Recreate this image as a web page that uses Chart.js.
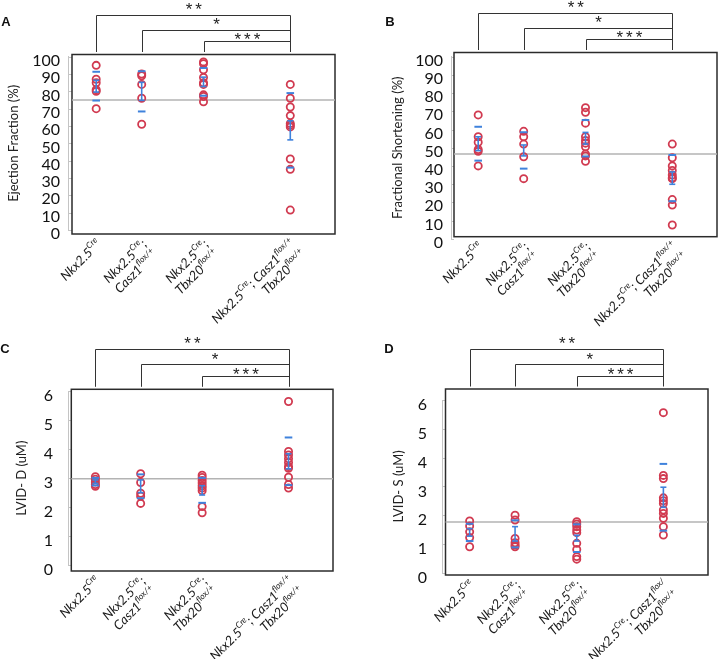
<!DOCTYPE html>
<html><head><meta charset="utf-8">
<script src="https://cdn.jsdelivr.net/npm/chart.js@4/dist/chart.umd.min.js"></script>
<style>
html,body{margin:0;padding:0;background:#fff;}
#wrap{position:relative;width:718px;height:659px;overflow:hidden;background:#fff;}
canvas{position:absolute;left:0;top:0;}
</style></head><body><div id="wrap">
<canvas id="cA" width="718" height="659"></canvas>
<canvas id="cB" width="718" height="659"></canvas>
<canvas id="cC" width="718" height="659"></canvas>
<canvas id="cD" width="718" height="659"></canvas>
</div>
<script>
// ---------------- DATA ----------------
const categories = [
  ["Nkx2.5^{Cre}"],
  ["Nkx2.5^{Cre};", "Casz1^{flox/+}"],
  ["Nkx2.5^{Cre};", "Tbx20^{flox/+}"],
  ["Nkx2.5^{Cre}; Casz1^{flox/+}", "Tbx20^{flox/+}"]
];
const categoriesD = [
  ["Nkx2.5^{Cre}"],
  ["Nkx2.5^{Cre};", "Casz1^{flox/+}"],
  ["Nkx2.5^{Cre};", "Tbx20^{flox/+}"],
  ["Nkx2.5^{Cre}; Casz1^{flox/}", "Tbx20^{flox/+}"]
];
// category positions along the x axis (0 = left frame edge, 1 = right frame edge)
const groupX = [0.092, 0.265, 0.5, 0.83];

const efValues = [
  [95, 87, 85, 81, 80, 70],
  [90, 89, 84, 76, 61],
  [97, 96, 92.5, 88, 85, 84, 78, 77, 74],
  [84, 76, 71, 66, 61.5, 60.5, 59.5, 41, 35, 11.5]
];
const efMean = [83, 80, 85.5, 57.5];
const efSd   = [8.3, 11.6, 8, 21.5];
const efSem  = [3.4, 5.2, 2.7, 5.5];
const efRef  = 75;

const fsValues = [
  [68, 56, 53, 49, 48, 40],
  [59, 56, 52, 45, 33],
  [72, 69.5, 63.5, 56, 54, 52.5, 50.5, 46.5, 45.5, 42.5],
  [52, 44.5, 40, 37.5, 35, 33.5, 33, 21.5, 18.5, 7.5]
];
const fsMean = [52.2, 48.5, 55.2, 33.3];
const fsSd   = [9.3, 10, 10, 12.7];
const fsSem  = [3.8, 3, 3.2, 3.4];
const fsRef  = 46.5;

const lviddValues = [
  [3.05, 2.96, 2.87, 2.78, 2.72],
  [3.15, 2.85, 2.48, 2.38, 2.13],
  [3.1, 3.02, 2.92, 2.83, 2.74, 2.66, 2.57, 2.02, 1.81],
  [5.64, 3.92, 3.8, 3.67, 3.54, 3.4, 3.34, 3.03, 2.78, 2.66]
];
const lviddMean = [2.88, 2.72, 2.58, 3.58];
const lviddSd   = [0.13, 0.41, 0.43, 0.82];
const lviddSem  = [0.06, 0.22, 0.16, 0.26];
const lviddRef  = 2.98;

const lvidsValues = [
  [1.8, 1.62, 1.42, 1.22, 0.9],
  [2.0, 1.83, 1.19, 1.04, 0.96, 0.9],
  [1.77, 1.69, 1.6, 1.48, 1.39, 1.02, 0.81, 0.56, 0.47],
  [5.56, 3.38, 3.27, 2.6, 2.5, 2.4, 2.18, 2.06, 1.89, 1.6, 1.31]
];
const lvidsMean = [1.4, 1.35, 1.2, 2.62];
const lvidsSd   = [0.3, 0.47, 0.48, 1.16];
const lvidsSem  = [0.13, 0.25, 0.1, 0.35];
const lvidsRef  = 1.76;

const pctTicks = {min: 0, max: 100, step: 10};
const umTicks  = {min: 0, max: 6, step: 1};
const starLabels = ["**", "*", "***"];
const comparedWith = [0, 1, 2]; // each compared against group 3

// ---------------- STYLE / LAYOUT ----------------
const RED = '#d13a50', BLUE = '#3f82dc', REFGRAY = '#b3b3b3';
const FONT = 'Lato, "Open Sans", sans-serif';

const panels = [
  {id:'cA', letter:'A', title:'Ejection Fraction (%)', values:efValues, mean:efMean, sd:efSd, sem:efSem, ref:efRef, ticks:pctTicks, labels:categories,
   g:{axisX:68, frameL:72, frameR:335, frameT:54.5, frameB:234, yTop:56.7, yBot:230, titleX:13.5, tickPad:8, labelOffset:4, lx:6, ly:22}},
  {id:'cB', letter:'B', title:'Fractional Shortening (%)', values:fsValues, mean:fsMean, sd:fsSd, sem:fsSem, ref:fsRef, ticks:pctTicks, labels:categories,
   g:{axisX:451, frameL:454, frameR:717, frameT:52.5, frameB:236.7, yTop:56.7, yBot:238.7, titleX:397.5, tickPad:8, labelOffset:4, lx:390, ly:22}},
  {id:'cC', letter:'C', title:'LVID- D (uM)', values:lviddValues, mean:lviddMean, sd:lviddSd, sem:lviddSem, ref:lviddRef, ticks:umTicks, labels:categories,
   g:{axisX:68, frameL:71.3, frameR:333, frameT:389.3, frameB:571, yTop:391, yBot:565.3, titleX:22, tickPad:15, labelOffset:5, lx:5, ly:349}},
  {id:'cD', letter:'D', title:'LVID- S (uM)', values:lvidsValues, mean:lvidsMean, sd:lvidsSd, sem:lvidsSem, ref:lvidsRef, ticks:umTicks, labels:categoriesD,
   g:{axisX:442, frameL:445.5, frameR:708, frameT:389, frameB:575, yTop:400, yBot:572.7, titleX:399, tickPad:15, labelOffset:5, lx:389, ly:349}}
];

function parseRich(s){
  const parts=[]; const re=/\^\{([^}]*)\}/g; let last=0,m;
  while((m=re.exec(s))){ if(m.index>last) parts.push({t:s.slice(last,m.index),sup:false}); parts.push({t:m[1],sup:true}); last=re.lastIndex; }
  if(last<s.length) parts.push({t:s.slice(last),sup:false});
  return parts;
}
function drawRich(ctx, s, x, y, size){
  const parts=parseRich(s);
  const fMain='italic '+size+'px '+FONT, fSup='italic '+(size*0.65).toFixed(1)+'px '+FONT;
  let w=0;
  parts.forEach(p=>{ctx.font=p.sup?fSup:fMain; p.w=ctx.measureText(p.t).width; w+=p.w;});
  let cx=x-w;
  ctx.textAlign='left'; ctx.textBaseline='middle';
  parts.forEach(p=>{ctx.font=p.sup?fSup:fMain; ctx.fillText(p.t,cx,y-(p.sup?size*0.36:0)); cx+=p.w;});
}

const TITLE_SIZE = 13, TITLE_LH = 1.2;

const decorPlugin = {
  id:'decor',
  beforeDatasetsDraw(chart, args, opts){
    const g=opts.g, ctx=chart.ctx, ys=chart.scales.y;
    ctx.save();
    ctx.strokeStyle='#c4c4c4'; ctx.lineWidth=1;
    ys.ticks.forEach(t=>{ const py=Math.round(ys.getPixelForValue(t.value))+0.5; ctx.beginPath(); ctx.moveTo(g.axisX,py); ctx.lineTo(g.frameL,py); ctx.stroke(); });
    ctx.strokeStyle='#2b2b2b'; ctx.lineWidth=1.5;
    ctx.strokeRect(g.frameL, g.frameT, g.frameR-g.frameL, g.frameB-g.frameT);
    ctx.restore();
  },
  afterDraw(chart, args, opts){
    const g=opts.g, ctx=chart.ctx, xs=chart.scales.x;
    const px=i=>xs.getPixelForValue(groupX[i]);
    ctx.save();
    const levels=[g.frameT-40, g.frameT-25, g.frameT-13.5];
    const starY=[g.frameT-50, g.frameT-34.5, g.frameT-19.5];
    const bottom=g.frameT-2.5;
    ctx.strokeStyle='#333'; ctx.lineWidth=1;
    const xr=Math.round(px(3))+0.5;
    comparedWith.forEach((gi,k)=>{
      const xl=Math.round(px(gi))+0.5, ly=Math.round(levels[k])+0.5;
      ctx.beginPath(); ctx.moveTo(xl,bottom); ctx.lineTo(xl,ly); ctx.lineTo(xr,ly); ctx.stroke();
    });
    ctx.beginPath(); ctx.moveTo(xr,Math.round(levels[0])+0.5); ctx.lineTo(xr,bottom); ctx.stroke();
    ctx.fillStyle='#222'; ctx.font='17px "Liberation Sans", Arial, sans-serif'; ctx.textAlign='center'; ctx.textBaseline='alphabetic';
    try{ ctx.letterSpacing='3px'; }catch(e){}
    comparedWith.forEach((gi,k)=>{
      const cx=(px(gi)+px(3))/2+2;
      ctx.fillText(starLabels[k], cx, starY[k]+10);
    });
    try{ ctx.letterSpacing='0px'; }catch(e){}
    ctx.font='bold 13px "Liberation Sans", Arial, sans-serif'; ctx.textAlign='center'; ctx.textBaseline='middle'; ctx.fillStyle='#111';
    ctx.fillText(opts.letter, g.lx, g.ly);
    ctx.fillStyle='#1a1a1a';
    opts.labels.forEach((lines,i)=>{
      ctx.save();
      ctx.translate(px(i)+3, g.frameB+8);
      ctx.rotate(-Math.PI/4);
      lines.forEach((ln,j)=>drawRich(ctx, ln, 0, j*15, 13));
      ctx.restore();
    });
    ctx.restore();
  }
};

panels.forEach(p=>{
  const g=p.g;
  const xMin=-(g.frameL-g.axisX)/(g.frameR-g.frameL);
  const padL=g.titleX-(TITLE_SIZE*TITLE_LH)/2;
  const pts=[], dashes=[], bars=[];
  p.values.forEach((arr,i)=>{
    arr.forEach(v=>pts.push({x:groupX[i], y:v}));
    dashes.push({x:groupX[i], y:p.mean[i]+p.sd[i]}, {x:groupX[i], y:p.mean[i]-p.sd[i]});
    bars.push({x:groupX[i], y:p.mean[i]-p.sem[i]}, {x:groupX[i], y:p.mean[i]+p.sem[i]}, {x:groupX[i], y:null});
  });
  new Chart(document.getElementById(p.id), {
    type:'scatter',
    data:{datasets:[
      {data:[{x:0,y:p.ref},{x:1,y:p.ref}], showLine:true, borderColor:REFGRAY, borderWidth:1.5, pointRadius:0, order:10, clip:false},
      {data:pts, pointStyle:'circle', pointRadius:3.6, pointBorderWidth:1.8, pointBorderColor:RED, pointBackgroundColor:'rgba(0,0,0,0)', order:5, clip:false},
      {data:bars, showLine:true, spanGaps:false, borderColor:BLUE, borderWidth:1.6, pointStyle:'line', pointRadius:3, pointBorderWidth:1.6, pointBorderColor:BLUE, order:1, clip:false},
      {data:dashes, pointStyle:'line', pointRadius:3.8, pointBorderWidth:2, pointBorderColor:BLUE, order:0, clip:false}
    ]},
    options:{
      responsive:false, animation:false, events:[],
      layout:{autoPadding:false, padding:{left:padL, top:g.yTop, right:718-g.frameR, bottom:659-g.yBot}},
      plugins:{legend:{display:false}, tooltip:{enabled:false}, decor:{g:g, letter:p.letter, labels:p.labels}},
      scales:{
        x:{type:'linear', display:false, min:xMin, max:1},
        y:{type:'linear', min:p.ticks.min, max:p.ticks.max,
           ticks:{stepSize:p.ticks.step, autoSkip:false, padding:g.tickPad, labelOffset:g.labelOffset, color:'#111', font:{family:FONT, size:16}},
           grid:{display:true, drawOnChartArea:false, drawTicks:false},
           border:{display:true, color:'#c4c4c4', width:1},
           title:{display:true, text:p.title, padding:0, color:'#222', font:{family:FONT, size:TITLE_SIZE, lineHeight:TITLE_LH}},
           afterFit:(s)=>{ s.width=g.axisX-padL; }
        }
      }
    },
    plugins:[decorPlugin]
  });
});
</script>
</body></html>
